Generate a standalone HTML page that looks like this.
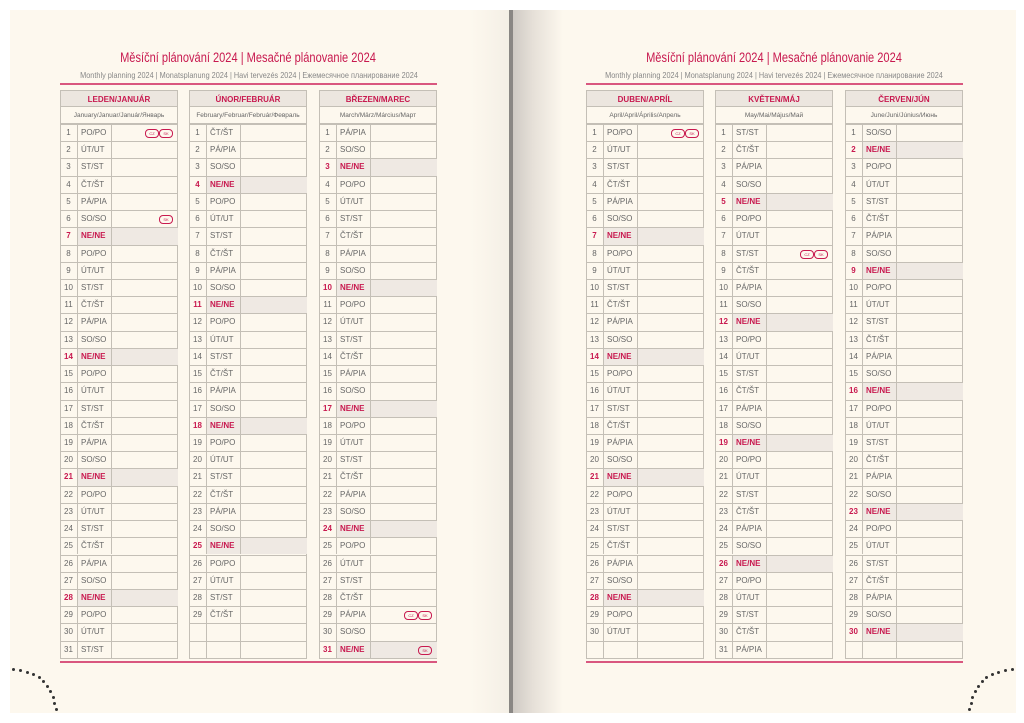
<!DOCTYPE html>
<html><head><meta charset="utf-8"><style>
body{margin:0;width:1024px;height:723px;background:#fff;position:relative;overflow:hidden;font-family:"Liberation Sans",sans-serif}
.page{position:absolute;top:10px;height:703px;background:#fdf8ee}
.t{position:absolute;text-align:center;white-space:nowrap}
.h1{color:#c8194f;font-size:13.5px;transform:scaleX(0.82)}
.h2{color:#888;font-size:8.5px;transform:scaleX(0.86)}
.line{position:absolute;height:2px;background:#d9577f}
.col{position:absolute;border:1px solid #c4bfb6;box-sizing:border-box}
.cell{position:absolute;box-sizing:border-box;font-size:8px;color:#666;line-height:17px}
.dot{position:absolute;width:3px;height:3px;border-radius:50%;background:#333}
.badge{position:absolute;width:12px;height:7px;border:1px solid #c8194f;border-radius:4px;font-size:4px;color:#c8194f;text-align:center;line-height:7px}
</style></head><body>
<div class="page" style="left:10px;width:500px;background:linear-gradient(90deg,#fdf8ee 460px,#f4efe6 500px)"></div>
<div class="page" style="left:513px;width:503px;background:linear-gradient(90deg,#cfcac4 0px,#e6e0d8 20px,#fdf8ee 50px)"></div>
<div style="position:absolute;left:509px;top:10px;width:4px;height:703px;background:#8a8784"></div>
<div id="c"></div>
<script>
const c=document.getElementById('c');
const names=['PO/PO','ÚT/UT','ST/ST','ČT/ŠT','PÁ/PIA','SO/SO','NE/NE'];
const months=[
['LEDEN/JANUÁR','January/Januar/Január/Январь',31,0,60],
['ÚNOR/FEBRUÁR','February/Februar/Február/Февраль',29,3,189],
['BŘEZEN/MAREC','March/März/Március/Март',31,4,319],
['DUBEN/APRÍL','April/April/Április/Апрель',30,0,586],
['KVĚTEN/MÁJ','May/Mai/Május/Май',31,2,715],
['ČERVEN/JÚN','June/Juni/Június/Июнь',30,5,845]];
const badges={'0-1':2,'0-6':1,'2-29':2,'2-31':1,'3-1':2,'4-8':2};
let h='';
[[248,60,437],[774,586,963]].forEach(([cx,l,r],i)=>{
h+=`<div class="t h1" style="left:${cx-200}px;width:400px;top:50px">Měsíční plánování 2024 | Mesačné plánovanie 2024</div>`;
h+=`<div class="t h2" style="left:${(i?cx:249)-200}px;width:400px;top:70px">Monthly planning 2024 | Monatsplanung 2024 | Havi tervezés 2024 | Ежемесячное планирование 2024</div>`;
h+=`<div class="line" style="left:${l}px;width:${r-l}px;top:83px"></div>`;
h+=`<div class="line" style="left:${l}px;width:${r-l}px;top:661px;height:1.5px"></div>`;
});
const RH=17.22,W=118;
months.forEach((m,mi)=>{
const x=m[4];
h+=`<div class="col" style="left:${x}px;top:90px;width:${W}px;height:${34+31*RH+1}px"></div>`;
h+=`<div class="cell" style="left:${x}px;top:90px;width:${W}px;height:17px;background:#ece6df;border:1px solid #c4bfb6;text-align:center;color:#c8194f;font-weight:bold">${m[0]}</div>`;
h+=`<div class="cell" style="left:${x}px;top:107px;width:${W}px;height:17px;border:1px solid #c4bfb6;border-top:none;text-align:center;font-size:6.5px">${m[1]}</div>`;
for(let d=1;d<=31;d++){
const y=124+(d-1)*RH;
const ex=d<=m[2];
const wd=(m[3]+d-1)%7;const sun=ex&&wd==6;
if(sun)h+=`<div style="position:absolute;left:${x+17}px;top:${y}px;width:${W-17}px;height:${RH}px;background:#efe9e3"></div>`;
h+=`<div style="position:absolute;left:${x}px;top:${y}px;width:${W}px;height:1px;background:#c4bfb6"></div>`;
h+=`<div style="position:absolute;left:${x+17}px;top:${y}px;width:1px;height:${RH}px;background:#c4bfb6"></div>`;
h+=`<div style="position:absolute;left:${x+51}px;top:${y}px;width:1px;height:${RH}px;background:#c4bfb6"></div>`;
if(ex){
const st=sun?'color:#c8194f;font-weight:bold;':'';
h+=`<div class="cell" style="left:${x}px;top:${y}px;width:17px;text-align:center;${st}">${d}</div>`;
h+=`<div class="cell" style="left:${x+21}px;top:${y}px;${st}">${names[wd]}</div>`;
const b=badges[mi+'-'+d];
if(b==2){h+=`<div class="badge" style="left:${x+85}px;top:${y+5}px">CZ</div><div class="badge" style="left:${x+99}px;top:${y+5}px">SK</div>`}
else if(b==1){h+=`<div class="badge" style="left:${x+99}px;top:${y+5}px">SK</div>`}
}}
});
const dots=[[12,668],[19,669],[26,671],[32,673],[38,676],[42,680],[46,685],[49,690],[52,696],[53,702],[55,708],[1011,668],[1004,669],[997,671],[991,673],[985,676],[981,680],[977,685],[974,690],[971,696],[970,702],[968,708]];
dots.forEach(([a,b])=>h+=`<div class="dot" style="left:${a}px;top:${b}px"></div>`);
c.innerHTML=h;
</script>
</body></html>
